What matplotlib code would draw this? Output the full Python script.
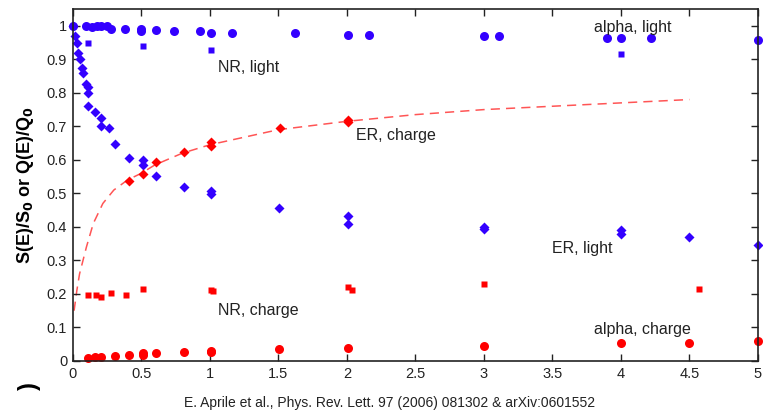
import matplotlib
matplotlib.use('Agg')
import matplotlib.pyplot as plt

plt.rcParams['font.family'] = ['Liberation Sans', 'DejaVu Sans']

# alpha, light (blue circles)
alpha_light_x = [0.005, 0.1, 0.14, 0.18, 0.21, 0.25, 0.28, 0.38, 0.5, 0.5, 0.61, 0.74, 0.93, 1.01,
                 1.16, 1.62, 2.01, 2.16, 3.0, 3.11, 3.9, 4.0, 4.22, 5.0]
alpha_light_y = [1.0, 0.998, 0.997, 1.0, 1.0, 0.998, 0.99, 0.99, 0.99, 0.984, 0.987, 0.984, 0.984, 0.98,
                 0.978, 0.978, 0.974, 0.972, 0.97, 0.97, 0.963, 0.963, 0.963, 0.957]

# NR, light (blue squares)
nr_light_x = [0.11, 0.51, 1.01, 4.0]
nr_light_y = [0.95, 0.94, 0.928, 0.917]

# ER, light (blue diamonds)
er_light_x = [0.005, 0.02, 0.03, 0.04, 0.05, 0.065, 0.073, 0.097, 0.114, 0.114, 0.114, 0.163, 0.21,
              0.21, 0.265, 0.31, 0.41, 0.51, 0.51, 0.61, 0.81, 1.01, 1.01, 1.506, 2.01, 2.01,
              3.0, 3.0, 4.0, 4.0, 4.5, 5.0]
er_light_y = [1.0, 0.97, 0.95, 0.92, 0.90, 0.875, 0.86, 0.825, 0.818, 0.80, 0.76, 0.743, 0.726,
              0.70, 0.696, 0.647, 0.605, 0.601, 0.584, 0.553, 0.52, 0.506, 0.498, 0.456, 0.433, 0.41,
              0.401, 0.395, 0.392, 0.38, 0.37, 0.346]

# ER, charge (red diamonds)
er_charge_x = [0.41, 0.51, 0.61, 0.81, 1.01, 1.01, 1.51, 2.01, 2.01]
er_charge_y = [0.538, 0.559, 0.593, 0.624, 0.653, 0.64, 0.696, 0.712, 0.718]

# ER charge model curve (dashed)
curve_x = [0.01, 0.03, 0.05, 0.1, 0.15, 0.22, 0.3, 0.4, 0.5, 0.6, 0.8, 1.0, 1.5, 2.0, 2.5, 3.0,
           3.5, 4.0, 4.5]
curve_y = [0.15, 0.21, 0.26, 0.34, 0.41, 0.47, 0.51, 0.54, 0.56, 0.585, 0.62, 0.645, 0.69, 0.715,
           0.735, 0.75, 0.76, 0.77, 0.78]

# NR, charge (red squares)
nr_charge_x = [0.114, 0.17, 0.207, 0.28, 0.39, 0.51, 1.01, 1.02, 2.01, 2.04, 3.0, 4.57]
nr_charge_y = [0.197, 0.197, 0.19, 0.203, 0.196, 0.215, 0.212, 0.21, 0.22, 0.212, 0.229, 0.214]

# alpha, charge (red circles)
alpha_charge_x = [0.114, 0.16, 0.21, 0.31, 0.41, 0.51, 0.51, 0.61, 0.81, 1.01, 1.01, 1.506,
                  2.01, 3.0, 4.0, 4.5, 5.0]
alpha_charge_y = [0.008, 0.011, 0.013, 0.016, 0.018, 0.018, 0.024, 0.023, 0.026, 0.026, 0.031,
                  0.035, 0.038, 0.046, 0.053, 0.053, 0.059]

labels = ['alpha, light', 'NR, light', 'ER, charge', 'ER, light', 'NR, charge', 'alpha, charge']
label_x = [3.8, 1.06, 2.07, 3.5, 1.06, 3.8]
label_y = [0.995, 0.875, 0.672, 0.335, 0.15, 0.095]

blue = '#3300ff'
red = '#ff0000'

fig = plt.figure(figsize=(7.63, 4.11), dpi=100)
ax = fig.add_axes([0.0953, 0.1217, 0.8981, 0.8563])

ax.plot(curve_x, curve_y, color='#ff5555', lw=1.1, dashes=(6, 4), zorder=1)
ax.plot(alpha_light_x, alpha_light_y, 'o', color=blue, ms=6.5, mec='none', clip_on=False)
ax.plot(nr_light_x, nr_light_y, 's', color=blue, ms=4.5, mec='none', clip_on=False)
ax.plot(er_light_x, er_light_y, 'D', color=blue, ms=5.5, mec='none', clip_on=False)
ax.plot(er_charge_x, er_charge_y, 'D', color=red, ms=5.5, mec='none', clip_on=False)
ax.plot(nr_charge_x, nr_charge_y, 's', color=red, ms=5, mec='none', clip_on=False)
ax.plot(alpha_charge_x, alpha_charge_y, 'o', color=red, ms=6.5, mec='none', clip_on=False)

for t, x, y in zip(labels, label_x, label_y):
    ax.text(x, y, t, fontsize=11.5, color='#222222', va='center', ha='left')

ax.set_xlim(0, 5)
ax.set_ylim(0, 1.05)
ax.set_xticks([0, 0.5, 1, 1.5, 2, 2.5, 3, 3.5, 4, 4.5, 5])
ax.set_xticklabels(['0', '0.5', '1', '1.5', '2', '2.5', '3', '3.5', '4', '4.5', '5'])
ax.set_yticks([0, 0.1, 0.2, 0.3, 0.4, 0.5, 0.6, 0.7, 0.8, 0.9, 1])
ax.set_yticklabels(['0', '0.1', '0.2', '0.3', '0.4', '0.5', '0.6', '0.7', '0.8', '0.9', '1'])
ax.tick_params(direction='in', top=True, right=True, length=5, width=1, labelsize=10.5,
               colors='#222222', pad=4)
for s in ax.spines.values():
    s.set_linewidth(1.2)
    s.set_color('#222222')

ax.set_ylabel(r'S(E)/S$_\mathbf{0}$ or Q(E)/Q$_\mathbf{0}$', fontsize=13, fontweight='bold',
              labelpad=8)
fig.text(0.511, 0.02, 'E. Aprile et al., Phys. Rev. Lett. 97 (2006) 081302 & arXiv:0601552',
         fontsize=10, ha='center', va='center', color='#222222')
fig.text(0.038, 0.06, ')', fontsize=17, fontweight='bold', rotation=90, ha='center', va='center')

plt.savefig('out.png', dpi=100)
